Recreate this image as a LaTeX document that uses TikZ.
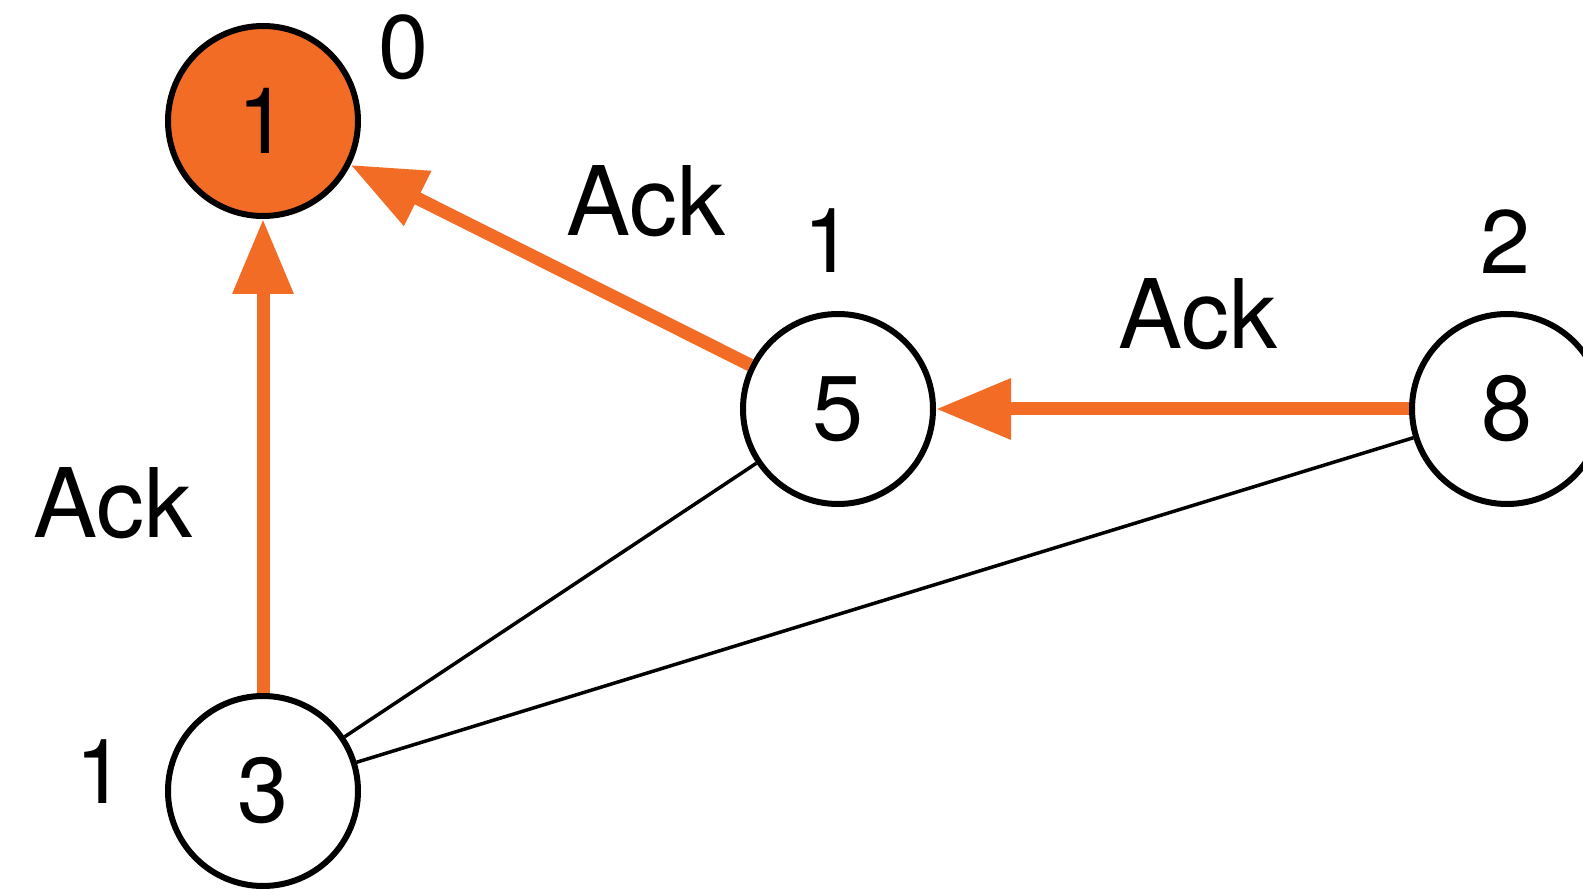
\documentclass[tikz,border=0pt]{standalone}
\usepackage{fontspec}
\setmainfont{TeX Gyre Heros}
\usetikzlibrary{arrows.meta}
\definecolor{ackorange}{RGB}{242,108,37}
\tikzset{
  vertex/.style={circle, draw=black, line width=6pt, minimum size=190pt, inner sep=0pt,
                 font=\fontsize{92}{100}\selectfont},
  root/.style={vertex, fill=ackorange},
  level/.style={font=\fontsize{90}{100}\selectfont, inner sep=0pt},
  msg/.style={font=\fontsize{96}{104}\selectfont, inner sep=0pt},
  ack/.style={draw=ackorange, line width=13pt,
              -{Triangle[length=75pt,width=58pt]}},
  link/.style={draw=black, line width=3.5pt}
}
\begin{document}
\begin{tikzpicture}[x=1pt,y=-1pt]
  \clip (0,0) rectangle (1583,890);
  \fill[white] (0,0) rectangle (1583,890);

  % vertices
  \node[root]   (n1) at (263,121) {1};
  \node[vertex] (n5) at (838,409) {5};
  \node[vertex] (n8) at (1507,409) {8};
  \node[vertex] (n3) at (263,791) {3};

  % hop counts
  \node[level] (l1) at (404,47)  {0};
  \node[level] (l5) at (829,241) {1};
  \node[level] (l8) at (1506,242) {2};
  \node[level] (l3) at (101,772) {1};

  % plain links
  \draw[link] (n5) -- (n3);
  \draw[link] (n8) -- (n3);

  % acknowledgements towards the root
  \draw[ack] (n3) -- (n1);
  \draw[ack] (n5) -- (n1);
  \draw[ack] (n8) -- (n5);

  % message labels
  \node[msg] (a1) at (646,201) {Ack};
  \node[msg] (a2) at (1198,314) {Ack};
  \node[msg] (a3) at (113,503) {Ack};
\end{tikzpicture}
\end{document}
